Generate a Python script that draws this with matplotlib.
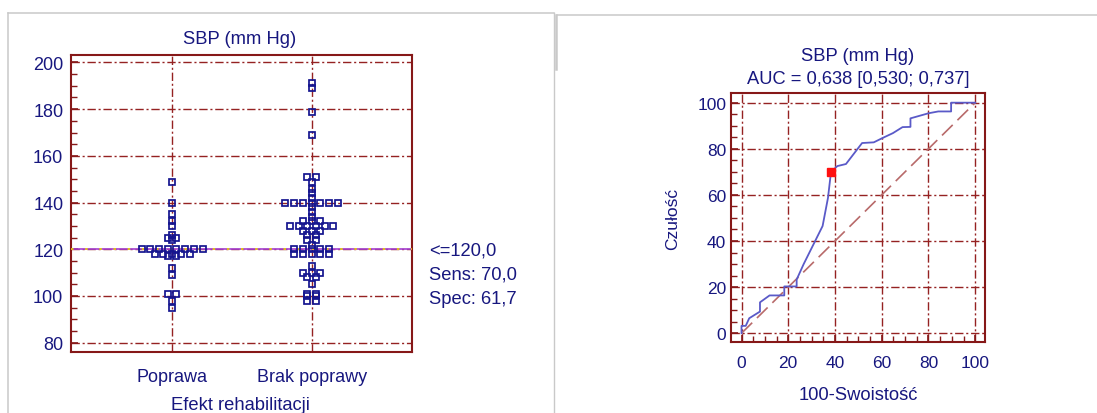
import matplotlib
matplotlib.use("Agg")
import matplotlib.pyplot as plt
from matplotlib.ticker import MultipleLocator
from matplotlib.lines import Line2D
import numpy as np
from collections import Counter

# ---------------- data ----------------
groups = ["Poprawa", "Brak poprawy"]
poprawa_sbp = [149, 140, 135, 132, 130, 126, 125, 125, 124,
               120, 120, 120, 120, 120, 120, 120, 120,
               118, 118, 118, 118, 118, 117, 117,
               112, 109, 101, 101, 98, 95]
brak_sbp = [191, 189, 179, 169, 151, 151, 149, 146, 144, 142,
            140, 140, 140, 140, 140, 140, 140,
            138, 136, 134, 132, 132, 132,
            130, 130, 130, 130, 130, 130, 128, 128, 128,
            126, 126, 124, 124, 122,
            120, 120, 120, 120, 120, 118, 118, 118, 118, 118,
            113, 110, 110, 110, 108, 108, 105, 101, 101, 100, 100, 98, 98]
cutoff = 120.0
cutoff_lines = ["<=120,0", "Sens: 70,0", "Spec: 61,7"]
auc_title = "AUC = 0,638 [0,530; 0,737]"

roc_fpr = [0, 0, 1.8, 3.3, 7.9, 7.9, 12.0, 18.3, 18.3, 23.6, 23.6, 26.6, 34.7,
           37.0, 38.3, 41.0, 44.7, 51.6, 56.6, 60.6, 64.8, 68.9, 72.3, 72.3,
           80.0, 84.2, 89.7, 89.7, 100]
roc_tpr = [0, 3.2, 3.2, 6.5, 9.4, 13.4, 16.4, 16.4, 20.3, 20.3, 23.3, 30.0, 46.5,
           58.7, 70.0, 72.5, 73.4, 82.5, 82.8, 84.8, 86.8, 89.4, 89.5, 93.2,
           95.4, 96.2, 96.2, 100, 100]
opt_point = (38.3, 70.0)

# ---------------- style ----------------
W, H, DPI = 1097, 414, 100
plt.rcParams["font.family"] = ["Liberation Sans", "DejaVu Sans"]
TXT = "#17177f"
SPINE = "#861818"
GRID = "#952222"
GRID_LS = (0, (6, 2, 1.5, 2))
SQ = "#14148f"

fig = plt.figure(figsize=(W / DPI, H / DPI), dpi=DPI)


def fx(px):
    return px / W


def fy(py):
    return 1 - py / H


def box(l, t, r, b):
    return [fx(l), fy(b), (r - l) / W, (b - t) / H]


# gray panel frames
frame_c = "#c9c9c9"
fig.add_artist(Line2D([fx(8), fx(554)], [fy(13.5), fy(13.5)], color=frame_c, lw=1.1))
fig.add_artist(Line2D([fx(8), fx(8)], [fy(13.5), fy(420)], color=frame_c, lw=1.1))
fig.add_artist(Line2D([fx(554), fx(554)], [fy(13.5), fy(420)], color=frame_c, lw=1.0))
fig.add_artist(Line2D([fx(556.5), fx(1097)], [fy(16), fy(16)], color=frame_c, lw=1.1))
fig.add_artist(Line2D([fx(556), fx(556)], [fy(16), fy(70)], color=frame_c, lw=1.8))


def style_axes(ax, tick_size):
    for s in ax.spines.values():
        s.set_color(SPINE)
        s.set_linewidth(1.5)
    ax.grid(True, which="major", color=GRID, ls=GRID_LS, lw=1.0)
    ax.set_axisbelow(True)
    ax.tick_params(which="both", colors=SPINE, labelcolor=TXT, labelsize=tick_size,
                   direction="in")
    ax.tick_params(which="major", length=5, width=1.2)
    ax.tick_params(which="minor", length=4, width=1.0)


# ---------------- left: dot plot ----------------
ax1 = fig.add_axes(box(71, 56, 412, 353))
style_axes(ax1, 13)
step = 0.0625
for gi, vals in enumerate([poprawa_sbp, brak_sbp]):
    cnt = Counter(vals)
    xs, ys = [], []
    for v, n in cnt.items():
        offs = (np.arange(n) - (n - 1) / 2) * step
        xs.extend(gi + 1 + offs)
        ys.extend([v] * n)
    ax1.plot(xs, ys, ls="none", marker="s", ms=4.3, mfc="none", mec=SQ, mew=1.25,
             zorder=4)
ax1.axhline(cutoff, color="#a43fd0", lw=1.2, zorder=3)
ax1.axhline(cutoff, color="#e8d400", lw=1.2, ls=(0, (1.5, 7)), zorder=3)
ax1.set_xlim(0.275, 2.72)
ax1.set_ylim(76, 203.2)
ax1.set_yticks(range(80, 201, 20))
ax1.yaxis.set_minor_locator(MultipleLocator(5))
ax1.set_xticks([1, 2])
ax1.set_xticklabels(groups)
ax1.tick_params(axis="x", length=0, pad=11.5, labelsize=13)
ax1.tick_params(axis="y", pad=5.5)
ax1.tick_params(axis="both", right=False, top=False)

fig.text(fx(240), fy(43.5), "SBP (mm Hg)", ha="center", va="baseline", color=TXT, size=13.2)
fig.text(fx(240), fy(410), "Efekt rehabilitacji", ha="center", va="baseline", color=TXT,
         size=13.2)
for i, t in enumerate(cutoff_lines):
    fig.text(fx(429), fy(256 + 24 * i), t, ha="left", va="baseline", color=TXT, size=13.2)

# ---------------- right: ROC ----------------
ax2 = fig.add_axes(box(731, 94, 985, 343))
style_axes(ax2, 12.5)
ax2.plot([0, 100], [0, 100], color="#b86a6a", lw=1.2, ls=(0, (9, 4)), zorder=3)
ax2.plot(roc_fpr, roc_tpr, color="#5a5ac8", lw=1.3, zorder=4)
ax2.plot([opt_point[0]], [opt_point[1]], ls="none", marker="s", ms=6, color="#ff1010",
         zorder=5)
ax2.set_xlim(-4.5, 104.2)
ax2.set_ylim(-3.8, 104.2)
ax2.set_xticks(range(0, 101, 20))
ax2.set_yticks(range(0, 101, 20))
ax2.xaxis.set_minor_locator(MultipleLocator(5))
ax2.yaxis.set_minor_locator(MultipleLocator(5))
ax2.tick_params(axis="both", right=False, top=False)
ax2.tick_params(axis="x", pad=9.5)
ax2.tick_params(axis="y", pad=3.5)
ax2.set_ylabel("Czułość", color=TXT, size=12.5, labelpad=12)

fig.text(fx(858), fy(61), "SBP (mm Hg)", ha="center", va="baseline", color=TXT, size=13.2)
fig.text(fx(858), fy(83.5), auc_title, ha="center", va="baseline", color=TXT, size=13.2)
fig.text(fx(858), fy(400.5), "100-Swoistość", ha="center", va="baseline", color=TXT, size=13.2)

fig.savefig("out.png", dpi=DPI)
